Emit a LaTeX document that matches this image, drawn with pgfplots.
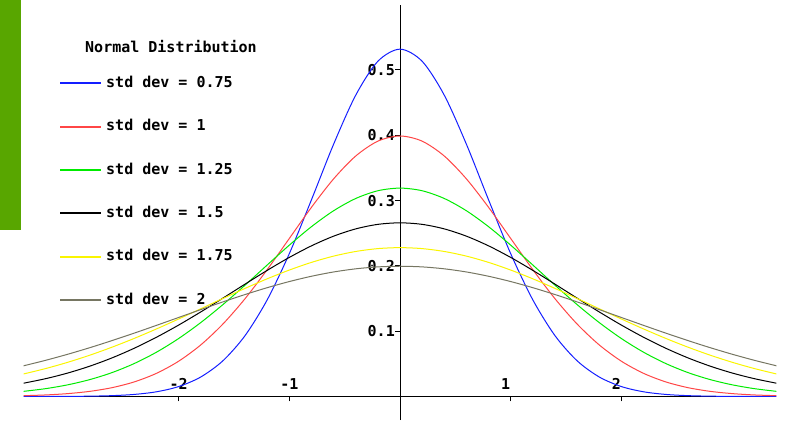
\documentclass[border=0pt]{standalone}
\usepackage{fontspec}
\setmainfont{DejaVu Sans Mono}
\usepackage{pgfplots}
\usepackage{pgfplotstable}
\pgfplotsset{compat=1.18}

\definecolor{barGreen}{RGB}{88,166,0}
\definecolor{cBlue}{RGB}{20,30,255}
\definecolor{cRed}{RGB}{255,70,70}
\definecolor{cGreen}{RGB}{0,235,0}
\definecolor{cYellow}{RGB}{250,245,0}
\definecolor{cGray}{RGB}{118,118,98}

% normal pdf values, x step 0.2
\pgfplotstableread{
x    s075    s100    s125    s150    s175    s200
-3.4 0.00002 0.00123 0.00790 0.02038 0.03453 0.04703
-3.2 0.00006 0.00238 0.01205 0.02733 0.04284 0.05546
-3.0 0.00018 0.00443 0.01792 0.03599 0.05245 0.06476
-2.8 0.00050 0.00792 0.02597 0.04658 0.06338 0.07486
-2.6 0.00131 0.01358 0.03669 0.05921 0.07561 0.08569
-2.4 0.00318 0.02239 0.05053 0.07395 0.08901 0.09709
-2.2 0.00720 0.03547 0.06782 0.09072 0.10344 0.10893
-2.0 0.01520 0.05399 0.08874 0.10934 0.11865 0.12099
-1.8 0.02985 0.07895 0.11317 0.12946 0.13432 0.13304
-1.6 0.05465 0.11092 0.14068 0.15058 0.15009 0.14485
-1.4 0.09316 0.14973 0.17046 0.17205 0.16554 0.15613
-1.2 0.14789 0.19419 0.20132 0.19313 0.18021 0.16661
-1.0 0.21868 0.24197 0.23175 0.21297 0.19363 0.17603
-0.8 0.30115 0.28969 0.26005 0.23070 0.20535 0.18414
-0.6 0.38625 0.33322 0.28443 0.24552 0.21496 0.19070
-0.4 0.46141 0.36827 0.30323 0.25667 0.22209 0.19552
-0.2 0.51335 0.39104 0.31509 0.26361 0.22648 0.19848
 0.0 0.53192 0.39894 0.31915 0.26596 0.22797 0.19947
 0.2 0.51335 0.39104 0.31509 0.26361 0.22648 0.19848
 0.4 0.46141 0.36827 0.30323 0.25667 0.22209 0.19552
 0.6 0.38625 0.33322 0.28443 0.24552 0.21496 0.19070
 0.8 0.30115 0.28969 0.26005 0.23070 0.20535 0.18414
 1.0 0.21868 0.24197 0.23175 0.21297 0.19363 0.17603
 1.2 0.14789 0.19419 0.20132 0.19313 0.18021 0.16661
 1.4 0.09316 0.14973 0.17046 0.17205 0.16554 0.15613
 1.6 0.05465 0.11092 0.14068 0.15058 0.15009 0.14485
 1.8 0.02985 0.07895 0.11317 0.12946 0.13432 0.13304
 2.0 0.01520 0.05399 0.08874 0.10934 0.11865 0.12099
 2.2 0.00720 0.03547 0.06782 0.09072 0.10344 0.10893
 2.4 0.00318 0.02239 0.05053 0.07395 0.08901 0.09709
 2.6 0.00131 0.01358 0.03669 0.05921 0.07561 0.08569
 2.8 0.00050 0.00792 0.02597 0.04658 0.06338 0.07486
 3.0 0.00018 0.00443 0.01792 0.03599 0.05245 0.06476
 3.2 0.00006 0.00238 0.01205 0.02733 0.04284 0.05546
 3.4 0.00002 0.00123 0.00790 0.02038 0.03453 0.04703
}\normaldata

\newcommand{\chfont}{\bfseries\fontsize{15}{18}\selectfont}

\begin{document}
\begin{tikzpicture}
\useasboundingbox (0pt,0pt) rectangle (786pt,421pt);
\fill[barGreen] (0pt,191pt) rectangle (20.5pt,421pt);
\begin{axis}[
  at={(23.6pt,1pt)}, anchor=south west,
  scale only axis,
  width=752.8pt, height=415.3pt,
  xmin=-3.4, xmax=3.4, ymin=-0.036, ymax=0.6,
  axis lines=middle,
  axis line style={-, line width=1pt, black},
  xtick={-2,-1}, xticklabels={-2,-1},
  extra x ticks={1,2}, extra x tick labels={1,2},
  extra x tick style={grid=none, xticklabel style={xshift=-5pt}},
  ytick={0.1,0.2,0.3,0.4,0.5}, yticklabels={0.1,0.2,0.3,0.4,0.5},
  tick align=outside, major tick length=5pt,
  tick style={black, line width=1pt},
  tick label style={font=\chfont},
  xticklabel style={anchor=south, inner sep=0pt, yshift=12pt},
  yticklabel style={anchor=east, inner sep=0pt},
  legend cell align=left,
  legend image code/.code={\fill[#1] (0pt,-0.55pt) rectangle (40pt,0.55pt);},
  legend style={draw=none, fill=none, inner sep=0pt, font=\chfont,
    at={(axis description cs:0.04835,0.8283)}, anchor=north west,
    row sep=29.4pt, column sep=5pt,
    nodes={inner sep=0pt, text height=11pt, text depth=3pt}},
  every axis plot/.append style={line width=1pt, smooth},
]
\addplot[color=cBlue]   table[x=x, y=s075] {\normaldata};
\addlegendentry{std dev = 0.75}
\addplot[color=cRed]    table[x=x, y=s100] {\normaldata};
\addlegendentry{std dev = 1}
\addplot[color=cGreen]  table[x=x, y=s125] {\normaldata};
\addlegendentry{std dev = 1.25}
\addplot[color=black]   table[x=x, y=s150] {\normaldata};
\addlegendentry{std dev = 1.5}
\addplot[color=cYellow] table[x=x, y=s175] {\normaldata};
\addlegendentry{std dev = 1.75}
\addplot[color=cGray]   table[x=x, y=s200] {\normaldata};
\addlegendentry{std dev = 2}
\end{axis}
\node[anchor=base west, inner sep=0pt, font=\chfont] at (85pt,368.3pt) {Normal Distribution};
\end{tikzpicture}
\end{document}
